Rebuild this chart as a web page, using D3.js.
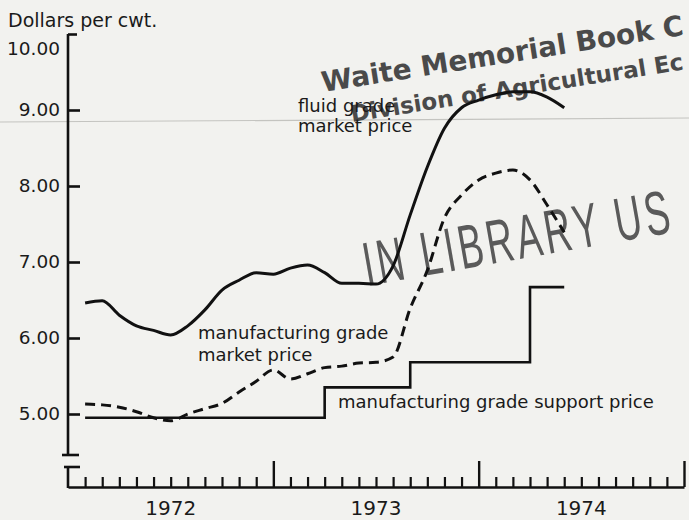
<!DOCTYPE html>
<html>
<head>
<meta charset="utf-8">
<script src="https://cdn.jsdelivr.net/npm/d3@7"></script>
<style>
body { margin: 0; background: #f2f2ef; }
svg { display: block; }
text { font-family: "DejaVu Sans", sans-serif; fill: #1a1a1a; }
</style>
</head>
<body>
<script>
// months counted from Jan 1972 (0) to Jan 1975 (36)
var months = d3.range(1, 30);
var fluidPrice = [6.46,6.49,6.30,6.16,6.10,6.04,6.16,6.37,6.63,6.76,6.86,6.84,6.92,6.96,6.86,6.72,6.72,6.71,6.95,7.62,8.25,8.76,9.03,9.13,9.20,9.24,9.24,9.17,9.03];
var mfgPrice = [5.13,5.12,5.09,5.03,4.95,4.91,5.00,5.07,5.14,5.29,5.43,5.58,5.46,5.53,5.61,5.63,5.67,5.68,5.75,6.39,6.89,7.58,7.88,8.08,8.17,8.21,8.08,7.75,7.39];
var supportMonths = [1, 15, 20, 27, 29];
var supportPrice = [4.95, 5.35, 5.68, 6.67, 6.67];
var priceTicks = [5, 6, 7, 8, 9, 10];
var years = ["1972", "1973", "1974"];

var width = 689, height = 520;
var x = d3.scaleLinear().domain([0, 36]).range([68, 684]);
var y = d3.scaleLinear().domain([5, 10]).range([414, 34]);

var svg = d3.select("body").append("svg")
    .attr("width", width)
    .attr("height", height);

// scan fold line
svg.append("line")
    .attr("x1", 0).attr("y1", 122).attr("x2", width).attr("y2", 118)
    .attr("stroke", "#c4c4c0").attr("stroke-width", 1.2);

// library stamps (cut off at the page edge in the scan)
var stamp = svg.append("g").attr("class", "stamp");
stamp.append("text")
    .attr("transform", "translate(323,92) rotate(-9)")
    .style("font-size", "28px").style("font-weight", "bold").style("fill", "#4a4a4a")
    .text("Waite Memorial Book C");
stamp.append("text")
    .attr("transform", "translate(352,122) rotate(-9)")
    .style("font-size", "23px").style("font-weight", "bold").style("fill", "#4a4a4a")
    .text("Division of Agricultural Ec");
stamp.append("text")
    .attr("transform", "translate(367,286) rotate(-10) scale(0.6,1)")
    .style("font-family", "'Liberation Sans', sans-serif")
    .style("font-size", "62px").style("letter-spacing", "6px").style("fill", "#5a5a5a")
    .text("IN LIBRARY US");

// y axis
svg.append("line")
    .attr("x1", 68).attr("y1", y(10)).attr("x2", 68).attr("y2", 455)
    .attr("stroke", "#111").attr("stroke-width", 2.6);

var yAxis = svg.append("g")
    .attr("transform", "translate(68,0)")
    .call(d3.axisLeft(y).tickValues(priceTicks).tickSize(-12).tickPadding(8)
        .tickFormat(d3.format(".2f")));
yAxis.select(".domain").remove();
yAxis.selectAll("line").attr("stroke", "#111").attr("stroke-width", 2.6)
    .attr("x2", function(d) { return d == 10 ? 9 : 12; });
yAxis.selectAll("text").style("font-size", "18.5px").style("fill", "#1a1a1a")
    .attr("font-family", null)
    .attr("y", function(d) { return d == 10 ? 15 : 0; });

// axis break
svg.append("line").attr("x1", 62).attr("y1", 455).attr("x2", 79).attr("y2", 455)
    .attr("stroke", "#111").attr("stroke-width", 2.6);
svg.append("line").attr("x1", 64).attr("y1", 467).attr("x2", 80).attr("y2", 467)
    .attr("stroke", "#111").attr("stroke-width", 2.6);
svg.append("line").attr("x1", 68).attr("y1", 466).attr("x2", 68).attr("y2", 488)
    .attr("stroke", "#111").attr("stroke-width", 2.6);

// x axis, monthly ticks
var minorMonths = d3.range(1, 36).filter(function(m) { return m % 12 != 0; });
var xMinor = svg.append("g")
    .attr("transform", "translate(0,487)")
    .call(d3.axisBottom(x).tickValues(minorMonths).tickSize(-10).tickSizeOuter(0).tickFormat(""));
xMinor.select(".domain").attr("stroke", "#111").attr("stroke-width", 2.6);
xMinor.selectAll("line").attr("stroke", "#111").attr("stroke-width", 2.2);

var xMajor = svg.append("g")
    .attr("transform", "translate(0,487)")
    .call(d3.axisBottom(x).tickValues([12, 24, 36]).tickSize(-26).tickSizeOuter(0).tickFormat(""));
xMajor.select(".domain").remove();
xMajor.selectAll("line").attr("stroke", "#111").attr("stroke-width", 2.4);

svg.selectAll(".year")
    .data(years)
    .enter()
    .append("text")
    .attr("class", "year")
    .attr("x", function(d, i) { return x(i * 12 + 6); })
    .attr("y", 515)
    .attr("text-anchor", "middle")
    .style("font-size", "20px")
    .text(function(d) { return d; });

// series
var priceLine = d3.line()
    .x(function(d, i) { return x(months[i]); })
    .y(function(d) { return y(d); })
    .curve(d3.curveMonotoneX);

svg.append("path")
    .attr("d", priceLine(fluidPrice))
    .attr("fill", "none").attr("stroke", "#111").attr("stroke-width", 3)
    .attr("stroke-linejoin", "round");

svg.append("path")
    .attr("d", priceLine(mfgPrice))
    .attr("fill", "none").attr("stroke", "#111").attr("stroke-width", 3)
    .attr("stroke-dasharray", "10,6");

var supportLine = d3.line()
    .x(function(d, i) { return x(supportMonths[i]); })
    .y(function(d) { return y(d); })
    .curve(d3.curveStepAfter);

svg.append("path")
    .attr("d", supportLine(supportPrice))
    .attr("fill", "none").attr("stroke", "#111").attr("stroke-width", 2.6);

// labels
svg.append("text").attr("x", 8).attr("y", 27).style("font-size", "19px").text("Dollars per cwt.");

svg.append("text").attr("x", 298).attr("y", 112).style("font-size", "18px").text("fluid grade");
svg.append("text").attr("x", 298).attr("y", 132).style("font-size", "18px").text("market price");

svg.append("text").attr("x", 198).attr("y", 339).style("font-size", "18px").text("manufacturing grade");
svg.append("text").attr("x", 198).attr("y", 361).style("font-size", "18px").text("market price");

svg.append("text").attr("x", 338).attr("y", 408).style("font-size", "18px").text("manufacturing grade support price");
</script>
</body>
</html>
